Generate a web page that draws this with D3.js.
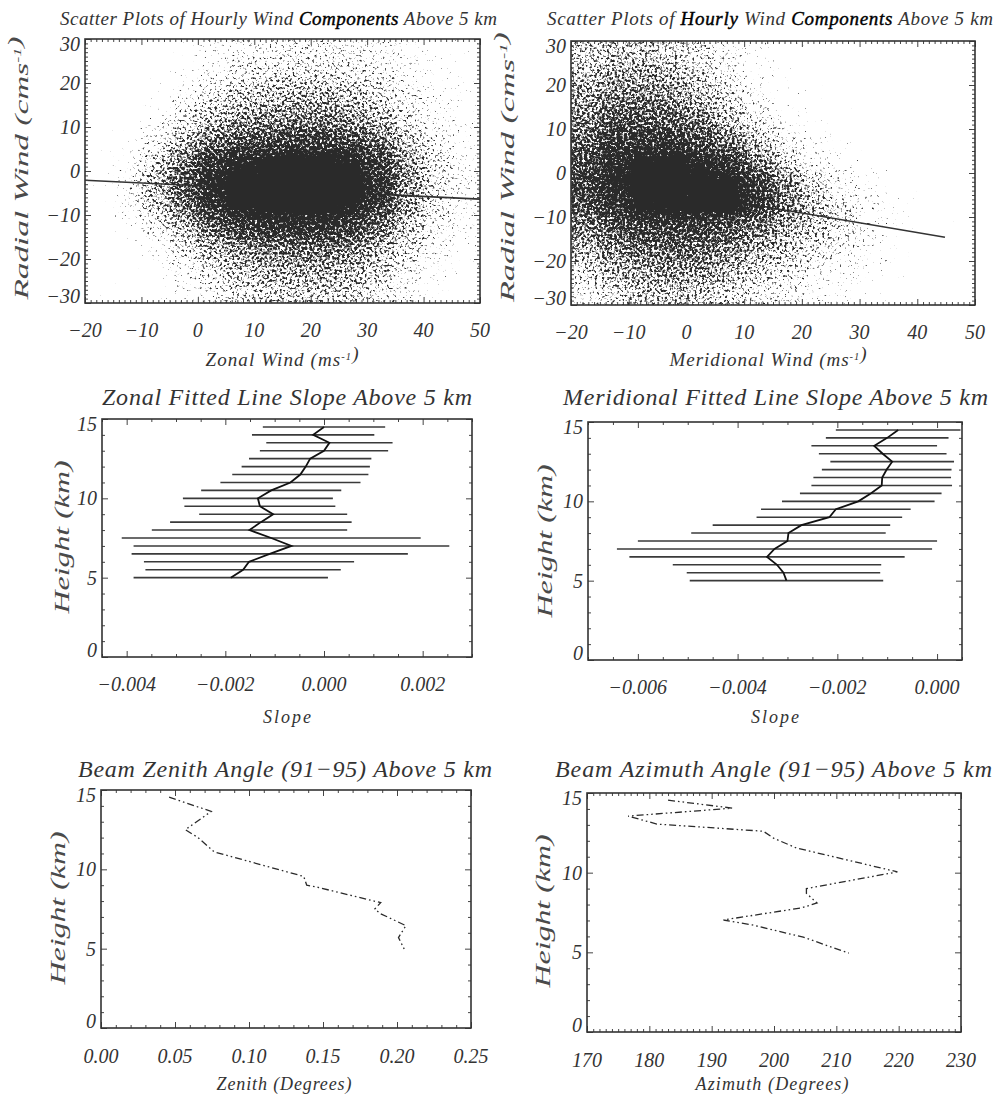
<!DOCTYPE html>
<html><head><meta charset="utf-8">
<script src="https://cdn.jsdelivr.net/npm/d3@7"></script>
<style>
html,body{margin:0;padding:0;background:#fff;}
svg{display:block;}
text{font-family:"Liberation Serif","DejaVu Serif",serif;font-style:italic;fill:#333;}
</style></head><body>
<svg id="c" width="1000" height="1101"></svg>
<script>
// ---------------- DATA ----------------
// scatter density grids (perceived darkness 0..1), cells 5 units wide
const scatterXEdges = [-20,-15,-10,-5,0,5,10,15,20,25,30,35,40,45];
const scatterYEdges = [25,20,15,10,5,0,-5,-10,-15,-20,-25,-30]; // rows top -> bottom
const scatterBin = 5;
const zonalScatterDensity = [
  [0,0,0.02,0.05,0.12,0.18,0.2,0.22,0.22,0.2,0.18,0.12,0.08,0.06],
  [0,0.01,0.03,0.08,0.18,0.25,0.3,0.32,0.3,0.28,0.22,0.15,0.1,0.07],
  [0,0.02,0.05,0.15,0.28,0.38,0.42,0.45,0.45,0.4,0.32,0.2,0.12,0.08],
  [0.01,0.03,0.1,0.25,0.4,0.5,0.55,0.58,0.58,0.52,0.42,0.28,0.15,0.1],
  [0.02,0.06,0.2,0.4,0.6,0.7,0.75,0.78,0.78,0.72,0.6,0.38,0.22,0.12],
  [0.03,0.12,0.35,0.62,0.85,0.95,0.98,1,1,0.95,0.8,0.5,0.28,0.15],
  [0.04,0.18,0.45,0.7,0.95,1,1,1,1,1,0.88,0.55,0.3,0.16],
  [0.03,0.15,0.4,0.65,0.9,1,1,1,1,0.98,0.82,0.5,0.28,0.15],
  [0.02,0.08,0.25,0.45,0.7,0.85,0.9,0.92,0.9,0.82,0.65,0.4,0.22,0.12],
  [0.01,0.04,0.12,0.3,0.45,0.58,0.62,0.65,0.65,0.6,0.45,0.3,0.16,0.1],
  [0,0.02,0.06,0.18,0.32,0.42,0.48,0.5,0.5,0.46,0.36,0.22,0.12,0.07],
  [0,0.01,0.03,0.1,0.22,0.3,0.35,0.38,0.38,0.35,0.28,0.16,0.08,0.05]
];
const meridScatterDensity = [
  [0.35,0.4,0.4,0.35,0.28,0.18,0.1,0.05,0.03,0.02,0.02,0.01,0,0],
  [0.42,0.5,0.5,0.45,0.35,0.22,0.12,0.06,0.03,0.02,0.02,0.01,0,0],
  [0.5,0.6,0.6,0.55,0.45,0.3,0.16,0.08,0.04,0.02,0.01,0.01,0,0],
  [0.58,0.7,0.72,0.68,0.58,0.42,0.25,0.12,0.06,0.03,0.02,0.01,0,0],
  [0.68,0.82,0.85,0.82,0.75,0.6,0.4,0.22,0.12,0.06,0.03,0.02,0.01,0],
  [0.75,0.9,1,1,0.95,0.85,0.6,0.35,0.2,0.1,0.05,0.03,0.01,0],
  [0.78,0.95,1,1,1,1,0.85,0.55,0.35,0.2,0.1,0.05,0.02,0],
  [0.72,0.88,1,1,1,1,0.85,0.6,0.42,0.28,0.15,0.07,0.02,0.01],
  [0.6,0.72,0.8,0.82,0.8,0.72,0.6,0.48,0.38,0.28,0.15,0.08,0.02,0.01],
  [0.45,0.58,0.65,0.68,0.65,0.58,0.48,0.38,0.3,0.2,0.12,0.06,0.02,0],
  [0.32,0.45,0.52,0.55,0.52,0.45,0.36,0.28,0.2,0.14,0.08,0.04,0.01,0],
  [0.22,0.32,0.4,0.42,0.4,0.34,0.26,0.2,0.15,0.1,0.06,0.03,0.01,0]
];
const zonalFitX = [-20, 50];
const zonalFitY = [-2.1, -6.4];
const meridFitX = [-20, 44.8];
const meridFitY = [-0.2, -14.6];

// fitted slopes per height
const slopeHeights = [5.0,5.5,6.0,6.5,7.0,7.5,8.0,8.5,9.0,9.5,10.0,10.5,11.0,11.5,12.0,12.5,13.0,13.5,14.0,14.5];
const zonalSlope = [-0.00189,-0.00164,-0.00152,-0.0011,-0.00066,-0.00107,-0.00151,-0.00128,-0.00103,-0.0013,-0.00134,-0.00107,-0.00068,-0.00048,-0.00037,-0.00028,0.0,0.00011,-0.00022,0.0];
const zonalSlopeErr = [0.00197,0.00198,0.00213,0.0028,0.0032,0.00303,0.00198,0.00184,0.0015,0.00153,0.00152,0.00142,0.00142,0.00138,0.0013,0.00124,0.0013,0.00128,0.00124,0.00124];
const meridSlope = [-0.00302,-0.00308,-0.00321,-0.00341,-0.00326,-0.003,-0.00298,-0.00272,-0.00216,-0.00203,-0.00158,-0.00133,-0.00111,-0.0011,-0.00101,-0.0009,-0.00109,-0.00126,-0.001,-0.00078];
const meridSlopeErr = [0.00194,0.00194,0.00209,0.00276,0.00316,0.003,0.00195,0.00178,0.00146,0.0015,0.00153,0.00142,0.00141,0.00138,0.0013,0.00124,0.00128,0.00126,0.00123,0.00125];

// beam angles
const zenithHeights = [14.55,13.65,12.5,12.0,11.1,9.55,9.0,8.9,7.9,7.5,7.2,6.45,5.7,4.95];
const zenithValues  = [0.046,0.0745,0.057,0.0655,0.0765,0.137,0.139,0.145,0.189,0.185,0.189,0.206,0.201,0.205];
const azimuthHeights = [14.55,14.05,13.55,13.05,12.6,12.15,11.55,10.05,9.0,8.7,8.1,7.8,7.03,6.72,5.95,4.95];
const azimuthValues  = [183.0,193.3,176.6,181.2,198.3,200.0,203.6,219.8,205.2,205.2,206.9,204.5,191.9,196.5,204.7,212.0];

// tick labels
const windTicks = [-20,-10,0,10,20,30,40,50];
const radialTicks = [-30,-20,-10,0,10,20,30];
const heightTicks = [0,5,10,15];
const zonalSlopeTicks = [-0.004,-0.002,0.000,0.002];
const meridSlopeTicks = [-0.006,-0.004,-0.002,0.000];
const zenithTicks = [0.00,0.05,0.10,0.15,0.20,0.25];
const azimuthTicks = [170,180,190,200,210,220,230];

// ---------------- DRAW ----------------
const svg = d3.select("#c");
const defs = svg.append("defs");

function makeScales(box, xd, yd){
  return {x: d3.scaleLinear().domain(xd).range([box.L, box.R]),
          y: d3.scaleLinear().domain(yd).range([box.B, box.T])};
}
function minorRange(lo, hi, step, majors){
  const n0 = Math.ceil(lo/step - 1e-9), n1 = Math.floor(hi/step + 1e-9);
  return d3.range(n0, n1+1).map(i => +(i*step).toFixed(6))
    .filter(v => !majors.some(m => Math.abs(m - v) < step*1e-3));
}
function drawFrame(p){
  const g = svg.append("g");
  const {x, y, box} = p;
  const sets = [[p.xMajor, 6],[p.xMinor, 3]];
  const ysets = [[p.yMajor, 6],[p.yMinor, 3]];
  sets.forEach(([vals, len]) => {
    g.append("g").attr("transform",`translate(0,${box.B})`).call(d3.axisBottom(x).tickValues(vals).tickSize(-len).tickFormat(""));
    g.append("g").attr("transform",`translate(0,${box.T})`).call(d3.axisTop(x).tickValues(vals).tickSize(-len).tickFormat(""));
  });
  ysets.forEach(([vals, len]) => {
    g.append("g").attr("transform",`translate(${box.L},0)`).call(d3.axisLeft(y).tickValues(vals).tickSize(-len).tickFormat(""));
    g.append("g").attr("transform",`translate(${box.R},0)`).call(d3.axisRight(y).tickValues(vals).tickSize(-len).tickFormat(""));
  });
  g.selectAll(".domain").remove();
  g.selectAll(".tick line").attr("stroke","#444").attr("stroke-width",1);
  g.append("rect").attr("x",box.L).attr("y",box.T).attr("width",box.R-box.L).attr("height",box.B-box.T)
    .attr("fill","none").attr("stroke","#333").attr("stroke-width",1.6);
  p.xMajor.forEach(v => {
    g.append("text").attr("x", x(v)).attr("y", box.B + p.xLabOff).attr("text-anchor","middle")
      .attr("font-size", p.tickFont).text(p.fmt(v));
  });
  p.yMajor.forEach(v => {
    const yy = Math.max(box.T + 5, Math.min(box.B - 7, y(v)));
    g.append("text").attr("x", box.L - 5).attr("y", yy).attr("dy","0.35em").attr("text-anchor","end")
      .attr("font-size", p.tickFont).text(d3.format("d")(v));
  });
}
function clipFor(id, box){
  defs.append("clipPath").attr("id", id).append("rect")
    .attr("x", box.L).attr("y", box.T).attr("width", box.R-box.L).attr("height", box.B-box.T);
  return svg.append("g").attr("clip-path", `url(#${id})`);
}
function title(txt, x0, len, yb, fs, darkWords){
  const t = svg.append("text").attr("x", x0).attr("y", yb).attr("font-size", fs)
    .attr("textLength", len).attr("lengthAdjust","spacing");
  const words = txt.split(" ");
  words.forEach((w,i) => {
    const dark = darkWords && darkWords.includes(w);
    t.append("tspan").style("fill", dark ? "#000" : null)
      .style("stroke", dark ? "#000" : null).style("stroke-width", dark ? 0.4 : null)
      .text(w + (i < words.length-1 ? " " : ""));
  });
}
function yLabel(parts, xc, yc, len, fs){
  const t = svg.append("text").attr("transform", `translate(${xc + fs*0.33},${yc}) rotate(-90)`)
    .attr("text-anchor","middle").attr("font-size", fs).attr("textLength", len)
    .attr("lengthAdjust","spacingAndGlyphs").style("fill","#4a4a4a");
  addParts(t, parts, fs);
}
function xLabel(parts, xc, yb, len, fs){
  const t = svg.append("text").attr("x", xc).attr("y", yb).attr("text-anchor","middle")
    .attr("font-size", fs).attr("textLength", len).attr("lengthAdjust","spacing");
  addParts(t, parts, fs);
}
function addParts(t, parts, fs){
  parts.forEach(pt => {
    if (typeof pt === "string") t.append("tspan").text(pt);
    else t.append("tspan").attr("font-size", fs*0.55).attr("dy", pt.dy).text(pt.sup);
  });
}

// threshold table mapping perceived density -> noise threshold (rendering calibration)
const thresholdTable = [0.05,0.15,0.22,0.27,0.31,0.345,0.375,0.405,0.43,0.455,0.48,0.505,0.53,0.555,0.58,0.605,0.63,0.66,0.7,0.76,1.0];
function makeDither(id, box, seed){
  const f = defs.append("filter").attr("id", id).attr("filterUnits","userSpaceOnUse")
    .attr("x", box.L-5).attr("y", box.T-5).attr("width", box.R-box.L+10).attr("height", box.B-box.T+10)
    .attr("color-interpolation-filters","sRGB");
  f.append("feGaussianBlur").attr("in","SourceAlpha").attr("stdDeviation",7).attr("result","blur");
  f.append("feComponentTransfer").attr("in","blur").attr("result","dens")
    .append("feFuncA").attr("type","table").attr("tableValues", thresholdTable.join(" "));
  f.append("feTurbulence").attr("type","fractalNoise").attr("baseFrequency",0.4).attr("numOctaves",2)
    .attr("seed",seed).attr("result","turb");
  f.append("feColorMatrix").attr("in","turb").attr("type","matrix")
    .attr("values","0 0 0 0 0  0 0 0 0 0  0 0 0 0 0  1 0 0 0 0").attr("result","noise");
  f.append("feComposite").attr("in","dens").attr("in2","noise").attr("operator","arithmetic")
    .attr("k1",0).attr("k2",6).attr("k3",-6).attr("k4",0.4).attr("result","mask");
  f.append("feColorMatrix").attr("in","mask").attr("type","matrix")
    .attr("values","0 0 0 0 0  0 0 0 0 0  0 0 0 0 0  0 0 0 1 0").attr("result","m2");
  f.append("feFlood").attr("flood-color","#2a2a2a").attr("result","ink");
  f.append("feComposite").attr("in","ink").attr("in2","m2").attr("operator","in");
}

function scatterPanel(box, grid, fitX, fitY, id, seed){
  const s = makeScales(box, [-20,50], [-30,30]);
  const cg = clipFor("clip"+id, box);
  cg.append("path").datum(fitX.map((v,i)=>[v, fitY[i]]))
    .attr("d", d3.line().x(d=>s.x(d[0])).y(d=>s.y(d[1])))
    .attr("fill","none").attr("stroke","#333").attr("stroke-width",1.6);
  makeDither("dith"+id, box, seed);
  const g = cg.append("g").attr("filter", `url(#dith${id})`);
  const nR = grid.length, nC = grid[0].length;
  grid.forEach((row, r) => row.forEach((d, c) => {
    const x0 = scatterXEdges[c], y0 = scatterYEdges[r];
    let px0 = s.x(x0), px1 = s.x(x0 + scatterBin), py0 = s.y(y0 + scatterBin), py1 = s.y(y0);
    if (c === 0) px0 -= 25; if (c === nC-1) px1 += 25;
    if (r === 0) py0 -= 25; if (r === nR-1) py1 += 25;
    g.append("rect").attr("x", px0).attr("y", py0).attr("width", px1-px0).attr("height", py1-py0)
      .attr("fill","#000").attr("fill-opacity", d);
  }));
  drawFrame({x:s.x, y:s.y, box, xMajor: windTicks, xMinor: minorRange(-20,50,1,windTicks),
    yMajor: radialTicks, yMinor: minorRange(-30,30,1,radialTicks), xLabOff: 34, tickFont: 20,
    fmt: d3.format("d")});
}

function slopePanel(box, xd, ticks, slope, err, id){
  const s = makeScales(box, xd, [0,15]);
  const cg = clipFor("clip"+id, box);
  slopeHeights.forEach((h,i) => {
    cg.append("line").attr("x1", s.x(slope[i]-err[i])).attr("x2", s.x(slope[i]+err[i]))
      .attr("y1", s.y(h)).attr("y2", s.y(h)).attr("stroke","#3a3a3a").attr("stroke-width",1.6);
  });
  cg.append("path").datum(slopeHeights.map((h,i)=>[slope[i], h]))
    .attr("d", d3.line().x(d=>s.x(d[0])).y(d=>s.y(d[1])))
    .attr("fill","none").attr("stroke","#111").attr("stroke-width",1.8);
  drawFrame({x:s.x, y:s.y, box, xMajor: ticks, xMinor: minorRange(xd[0], xd[1], 0.0005, ticks),
    yMajor: heightTicks, yMinor: minorRange(0,15,1,heightTicks), xLabOff: 34, tickFont: 20,
    fmt: d3.format(".3f")});
}

function anglePanel(box, xd, ticks, minorStep, hs, vals, fmt, id){
  const s = makeScales(box, xd, [0,15]);
  const cg = clipFor("clip"+id, box);
  cg.append("path").datum(hs.map((h,i)=>[vals[i], h]))
    .attr("d", d3.line().x(d=>s.x(d[0])).y(d=>s.y(d[1])))
    .attr("fill","none").attr("stroke","#2a2a2a").attr("stroke-width",1.3)
    .attr("stroke-dasharray","7 3 1.6 3 1.6 3");
  drawFrame({x:s.x, y:s.y, box, xMajor: ticks, xMinor: minorRange(xd[0], xd[1], minorStep, ticks),
    yMajor: heightTicks, yMinor: minorRange(0,15,1,heightTicks), xLabOff: 35, tickFont: 20, fmt});
}

// panels
const bTL = {L:85, R:480, T:39, B:303};
const bTR = {L:571, R:975, T:41, B:305};
const bML = {L:102, R:472, T:419, B:657};
const bMR = {L:588, R:962, T:422, B:660};
const bBL = {L:101, R:471, T:790, B:1028};
const bBR = {L:587, R:961, T:793, B:1032};

scatterPanel(bTL, zonalScatterDensity, zonalFitX, zonalFitY, "TL", 7);
scatterPanel(bTR, meridScatterDensity, meridFitX, meridFitY, "TR", 19);
slopePanel(bML, [-0.0045, 0.003], zonalSlopeTicks, zonalSlope, zonalSlopeErr, "ML");
slopePanel(bMR, [-0.007, 0.0005], meridSlopeTicks, meridSlope, meridSlopeErr, "MR");
anglePanel(bBL, [0, 0.25], zenithTicks, 0.01, zenithHeights, zenithValues, d3.format(".2f"), "BL");
anglePanel(bBR, [170, 230], azimuthTicks, 1, azimuthHeights, azimuthValues, d3.format("d"), "BR");

// titles
title("Scatter Plots of Hourly Wind Components Above 5 km", 60, 437, 25, 19, ["Components"]);
title("Scatter Plots of Hourly Wind Components Above 5 km", 547, 446, 25, 19, ["Hourly","Components"]);
title("Zonal Fitted Line Slope Above 5 km", 102, 370, 405, 24);
title("Meridional Fitted Line Slope Above 5 km", 563, 425, 405, 24);
title("Beam Zenith Angle (91\u221295) Above 5 km", 78, 414, 777, 24);
title("Beam Azimuth Angle (91\u221295) Above 5 km", 555, 437, 777, 24);

// axis labels
yLabel(["Radial Wind (cms", {sup:"-1", dy:-7}, {sup:"", dy:7}, ")"], 22, 168, 263, 19);
yLabel(["Radial Wind (cms", {sup:"-1", dy:-7}, {sup:"", dy:7}, ")"], 508, 167, 270, 19);
xLabel(["Zonal Wind (ms", {sup:"-1", dy:-6}, {sup:"", dy:6}, ")"], 282, 366, 153, 19);
xLabel(["Meridional Wind (ms", {sup:"-1", dy:-6}, {sup:"", dy:6}, ")"], 768, 366, 197, 19);
yLabel(["Height (km)"], 62, 537, 153, 20);
yLabel(["Height (km)"], 545, 541, 153, 20);
yLabel(["Height (km)"], 58, 908, 153, 20);
yLabel(["Height (km)"], 543, 911, 153, 20);
xLabel(["Slope"], 287, 723, 48, 18);
xLabel(["Slope"], 775, 723, 48, 18);
xLabel(["Zenith (Degrees)"], 284, 1090, 135, 18);
xLabel(["Azimuth (Degrees)"], 772, 1090, 153, 18);
</script></body></html>
